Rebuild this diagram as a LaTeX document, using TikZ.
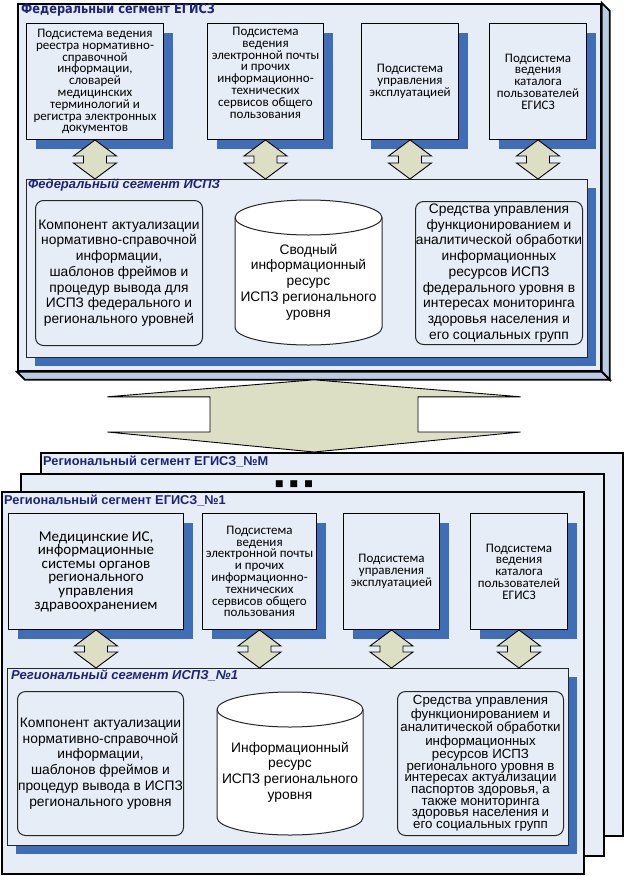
\documentclass[tikz,border=0pt]{standalone}
\usepackage{fontspec}
\usepackage{graphicx}
\setmainfont{Liberation Sans}
\newfontfamily\carl{Carlito}
\newfontfamily\dejavu{DejaVu Sans}
\usetikzlibrary{shadows,calc}
\definecolor{face}{RGB}{231,237,247}
\definecolor{bevel}{RGB}{184,204,228}
\definecolor{shblue}{RGB}{62,110,183}
\definecolor{arrowc}{RGB}{221,223,197}
\definecolor{navy}{RGB}{28,36,120}
\tikzset{
  frame/.style={draw=black, line width=1.8pt, fill=face, anchor=north west, inner sep=0pt},
  bevelface/.style={draw=black, line width=1.8pt, fill=bevel, line join=miter},
  blueshadow/.style={drop shadow={shadow xshift=9pt, shadow yshift=-9pt, fill=shblue, opacity=1}},
  ubox/.style={draw=black, line width=1pt, fill=face, anchor=north west, inner sep=0pt, align=center, blueshadow,
    font=\carl\fontsize{13}{11.8}\selectfont},
  innerframe/.style={draw=black!85, line width=0.9pt, fill=face, anchor=north west, inner sep=0pt, blueshadow},
  rbox/.style={draw=black!85, line width=1pt, rounded corners=8pt, fill=face, anchor=north west, inner sep=0pt, align=center,
    font=\fontsize{13.8}{15.7}\selectfont},
  cyltext/.style={align=center, inner sep=0pt, font=\fontsize{13.8}{15.7}\selectfont},
  cylshape/.style={draw=black!85, line width=1pt, fill=white},
  dbl/.style={draw=black, line width=0.9pt, fill=arrowc, line join=miter},
  egtitle/.style={anchor=west, inner sep=0pt, text=navy, font=\dejavu\bfseries\fontsize{13.2}{13.2}\selectfont},
  regtitle/.style={anchor=west, inner sep=0pt, text=navy, font=\bfseries\fontsize{12.8}{12.8}\selectfont},
  ispztitle/.style={anchor=west, inner sep=0pt, text=navy, font=\bfseries\itshape\fontsize{13}{13}\selectfont}
}
\newcommand\vdbl[2]{%
  \draw[dbl] let \p1=(#1.south), \p2=(#2.north) in
    (\x1,\y1) -- (\x1+21.5pt,\y1-16pt) -- (\x1+11.5pt,\y1-16pt) -- (\x1+11.5pt,\y2+16pt)
    -- (\x1+21.5pt,\y2+16pt) -- (\x1,\y2) -- (\x1-21.5pt,\y2+16pt) -- (\x1-11.5pt,\y2+16pt)
    -- (\x1-11.5pt,\y1-16pt) -- (\x1-21.5pt,\y1-16pt) -- cycle;}
\begin{document}
\begin{tikzpicture}[x=1pt,y=-1pt]
\useasboundingbox (0,0) rectangle (624,876);
\fill[white] (0,0) rectangle (624,876);

% ---------------- Federal segment EGISZ (3D frame)
\node[frame, minimum width=583pt, minimum height=367pt] (fed) at (17,3) {};
\draw[bevelface] (fed.north east) -- ++(8,8) -- ($(fed.south east)+(8,8)$) -- (fed.south east) -- cycle;
\draw[bevelface] (fed.south west) -- ++(8,8) -- ($(fed.south east)+(8,8)$) -- (fed.south east) -- cycle;
\node[egtitle] (fedt) at (21,10) {\scalebox{0.86}[1]{Федеральный сегмент ЕГИСЗ}};

\node[ubox, minimum width=137pt, minimum height=116pt] (b1) at (26,23)
  {Подсистема ведения\\реестра нормативно-\\справочной\\информации,\\словарей\\медицинских\\терминологий и\\регистра электронных\\документов};
\node[ubox, minimum width=116pt, minimum height=116pt] (b2) at (207,23)
  {Подсистема\\ведения\\электронной почты\\и прочих\\информационно-\\технических\\сервисов общего\\пользования\\[6pt]};
\node[ubox, minimum width=97pt, minimum height=116pt] (b3) at (361,23)
  {Подсистема\\управления\\эксплуатацией};
\node[ubox, minimum width=97pt, minimum height=116pt] (b4) at (489,23)
  {Подсистема\\ведения\\каталога\\пользователей\\ЕГИСЗ};

\node[innerframe, minimum width=561pt, minimum height=178pt] (fispz) at (26,179) {};
\node[ispztitle] (fispzt) at (28,185) {Федеральный сегмент ИСПЗ};

\vdbl{b1}{fispz}
\vdbl{b2}{fispz}
\vdbl{b3}{fispz}
\vdbl{b4}{fispz}

\node[rbox, minimum width=167pt, minimum height=145pt] (fl) at (35,200)
  {Компонент актуализации\\нормативно-справочной\\информации,\\шаблонов фреймов и\\процедур вывода для\\ИСПЗ федерального и\\регионального уровней};
\path[cylshape] (235,217.5) -- (235,327.5)
  arc[start angle=180, end angle=360, x radius=73.5pt, y radius=17.5pt] -- (382,217.5)
  arc[start angle=0, end angle=180, x radius=73.5pt, y radius=17.5pt] -- cycle;
\draw[cylshape, fill=none] (235,217.5) arc[start angle=180, end angle=360, x radius=73.5pt, y radius=17.5pt];
\node[cyltext] (fcyl) at (308.5,282) {Сводный\\информационный\\ресурс\\ИСПЗ регионального\\уровня};
\node[rbox, minimum width=167pt, minimum height=143pt] (fr) at (415,201)
  {Средства управления\\функционированием и\\аналитической обработки\\информационных\\ресурсов ИСПЗ\\федерального уровня в\\интересах мониторинга\\здоровья населения и\\его социальных групп};

% ---------------- Regional segments
\node[frame, minimum width=582pt, minimum height=383pt] (regM) at (40,452) {};
\node[regtitle] (regMt) at (43,462) {Региональный сегмент ЕГИСЗ\_№М};
\node[frame, minimum width=583pt, minimum height=382pt] (regK) at (20,473) {};
\node[inner sep=0pt, font=\dejavu\fontsize{9}{9}\selectfont] (dots) at (294,484) {■\hspace{6pt}■\hspace{6pt}■};
\node[frame, minimum width=582pt, minimum height=382pt] (reg1) at (1,491) {};
\node[regtitle] (reg1t) at (4,501) {Региональный сегмент ЕГИСЗ\_№1};

\node[ubox, minimum width=175pt, minimum height=116pt, font=\carl\fontsize{15}{13.6}\selectfont] (r1) at (8,513)
  {Медицинские ИС,\\информационные\\системы органов\\регионального\\управления\\здравоохранением};
\node[ubox, minimum width=114pt, minimum height=116pt] (r2) at (202,513)
  {Подсистема\\ведения\\электронной почты\\и прочих\\информационно-\\технических\\сервисов общего\\пользования};
\node[ubox, minimum width=96pt, minimum height=116pt] (r3) at (343,513)
  {Подсистема\\управления\\эксплуатацией};
\node[ubox, minimum width=97pt, minimum height=116pt] (r4) at (470,513)
  {Подсистема\\ведения\\каталога\\пользователей\\ЕГИСЗ};

\node[innerframe, minimum width=561pt, minimum height=177pt] (rispz) at (7,668) {};
\node[ispztitle] (rispzt) at (11,675) {Региональный сегмент ИСПЗ\_№1};

\vdbl{r1}{rispz}
\vdbl{r2}{rispz}
\vdbl{r3}{rispz}
\vdbl{r4}{rispz}

\node[rbox, minimum width=166pt, minimum height=144pt] (rl) at (17,691)
  {Компонент актуализации\\нормативно-справочной\\информации,\\шаблонов фреймов и\\процедур вывода в ИСПЗ\\регионального уровня};
\path[cylshape] (217,709.5) -- (217,817.5)
  arc[start angle=180, end angle=360, x radius=73pt, y radius=17.5pt] -- (363,709.5)
  arc[start angle=0, end angle=180, x radius=73pt, y radius=17.5pt] -- cycle;
\draw[cylshape, fill=none] (217,709.5) arc[start angle=180, end angle=360, x radius=73pt, y radius=17.5pt];
\node[cyltext] (rcyl) at (290,772) {Информационный\\ресурс\\ИСПЗ регионального\\уровня};
\node[rbox, minimum width=166pt, minimum height=144pt, font=\fontsize{13.3}{11.7}\selectfont] (rr) at (397,691)
  {Средства управления\\функционированием и\\аналитической обработки\\информационных\\ресурсов ИСПЗ\\регионального уровня в\\интересах актуализации\\паспортов здоровья, а\\также мониторинга\\здоровья населения и\\его социальных групп};

% ---------------- big double arrow between federal and regional
\draw[dbl] let \p1=($(fed.south west)+(297,8)$), \p2=($(regM.north west)+(274,0)$) in
  (\x1,\y1) -- (\x1+206.5pt,\y1-17pt) -- (\x1+104pt,\y1-17pt) -- (\x1+104pt,\y2+20pt)
  -- (\x1+206.5pt,\y2+20pt) -- (\x1,\y2) -- (\x1-206.5pt,\y2+20pt) -- (\x1-104pt,\y2+20pt)
  -- (\x1-104pt,\y1-17pt) -- (\x1-206.5pt,\y1-17pt) -- cycle;
\end{tikzpicture}
\end{document}
